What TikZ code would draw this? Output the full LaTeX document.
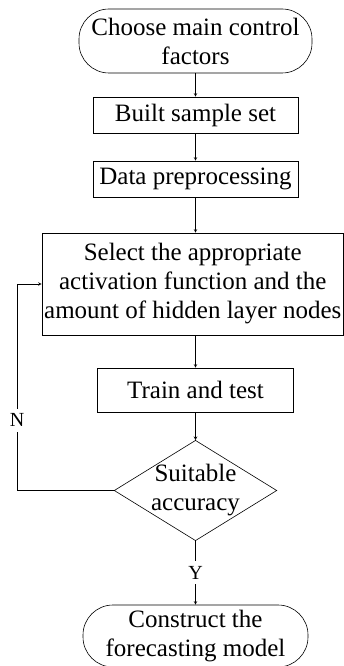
\documentclass[tikz,border=0pt]{standalone}
\usepackage{fontspec}
\setmainfont{Liberation Serif}
\usetikzlibrary{shapes.geometric}
\begin{document}
\begin{tikzpicture}[>=stealth, x=1pt, y=-1pt, line width=0.6pt,
  every node/.style={font=\fontsize{25}{29}\selectfont, inner sep=1pt, align=center},
  box/.style={draw, minimum height=36pt},
  term/.style={draw, rounded corners=30pt, minimum height=64pt},
  decision/.style={draw, diamond, inner xsep=-5pt, inner ysep=0pt, aspect=1.62},
  lbl/.style={fill=white, font=\fontsize{20}{20}\selectfont, inner sep=5pt}]
  \useasboundingbox (0,0) rectangle (344,666);
  \path
  (195.5,41) node[term, minimum width=233pt] (choose) {Choose main control\\factors}
  (195.5,115) node[box, minimum width=205pt] (sample) {Built sample set}
  (195.5,179) node[box, minimum width=205pt] (prep) {Data preprocessing}
  (192.75,284) node[box, minimum width=301.5pt, minimum height=102pt] (select)
    {Select the appropriate\\activation function and the\\amount of hidden layer nodes}
  (195.5,390) node[box, minimum width=196pt, minimum height=44pt] (train) {Train and test}
  (195.5,490.5) node[decision] (suit) {Suitable\\accuracy}
  (195.5,636) node[term, minimum width=225pt, minimum height=62pt] (model) {Construct the\\forecasting model};
  \coordinate (back) at (17,490.5);

  \draw[->] (choose) -- (sample);
  \draw[->] (sample) -- (prep);
  \draw[->] (prep) -- (prep |- select.north);
  \draw[->] (select.south -| train) -- (train);
  \draw[->] (train) -- (suit);
  \draw[->] (suit) -- node[lbl] {Y} (model);
  \draw[->] (suit.west) -- (back) |- node[lbl, pos=0.17] {N} (select.west);
\end{tikzpicture}
\end{document}
